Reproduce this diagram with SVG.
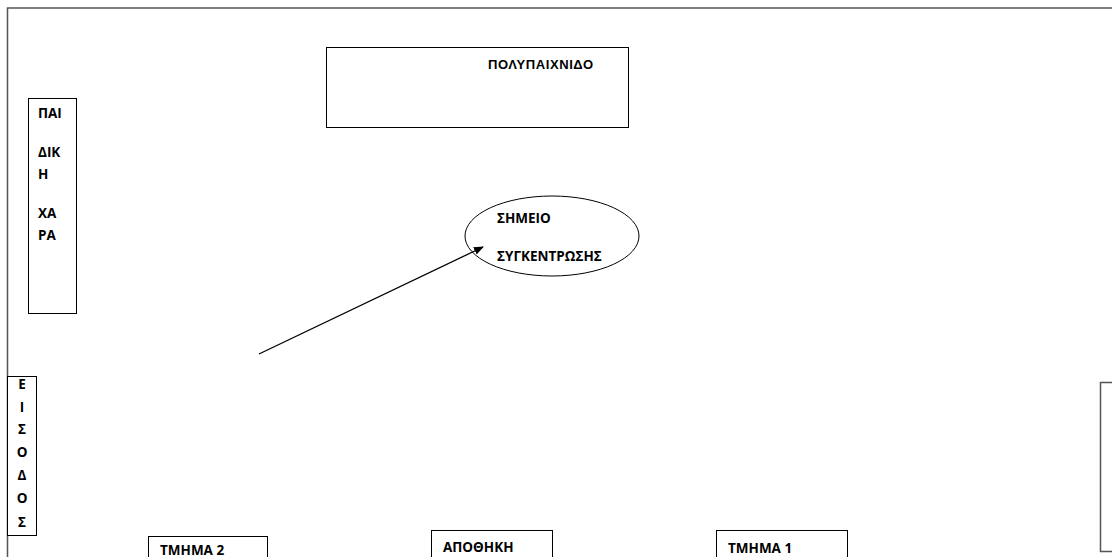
<svg xmlns="http://www.w3.org/2000/svg" width="1112" height="557" viewBox="0 0 1112 557">
<defs>
<style>
.box{fill:#fff;stroke:#000;stroke-width:1}
.frame{fill:none;stroke:#555;stroke-width:1.5}
.t{font-family:"Open Sans","Liberation Sans",sans-serif;font-weight:bold;font-size:13.5px;fill:#000}
.a{font-family:"Liberation Sans",Arial,sans-serif;font-weight:bold;font-size:13px;letter-spacing:0.6px;fill:#000}
</style>
<marker id="arr" markerWidth="10" markerHeight="8" refX="9" refY="4" orient="auto" markerUnits="userSpaceOnUse">
<path d="M0,0 L10,4 L0,8 z" fill="#000"/>
</marker>
</defs>
<rect width="1112" height="557" fill="#fff"/>
<g id="frame">
<path class="frame" d="M1112,8 H7.5 V557"/>
</g>
<g id="polypaixnido">
<rect class="box" x="326.5" y="47.5" width="302" height="80"/>
<text class="a" x="488" y="69">ΠΟΛΥΠΑΙΧΝΙΔΟ</text>
</g>
<g id="paidiki-xara">
<rect class="box" x="28.5" y="98.5" width="48" height="215"/>
<text class="t" x="38" y="118">ΠΑΙ</text>
<text class="t" x="38" y="157">ΔΙΚ</text>
<text class="t" x="38" y="179">Η</text>
<text class="t" x="38" y="218">ΧΑ</text>
<text class="t" x="38" y="240">ΡΑ</text>
</g>
<g id="simeio">
<ellipse class="box" cx="552" cy="236" rx="87" ry="40"/>
<text class="t" x="497" y="223">ΣΗΜΕΙΟ</text>
<text class="t" x="497" y="261">ΣΥΓΚΕΝΤΡΩΣΗΣ</text>
</g>
<g id="eisodos">
<rect class="box" x="7.5" y="376.5" width="29" height="159"/>
<g class="t" text-anchor="middle">
<text x="22" y="389">Ε</text>
<text x="22" y="412">Ι</text>
<text x="22" y="434">Σ</text>
<text x="22" y="457">Ο</text>
<text x="22" y="480">Δ</text>
<text x="22" y="503">Ο</text>
<text x="22" y="527">Σ</text>
</g>
</g>
<g id="tmima2">
<rect class="box" x="148.5" y="536.5" width="119" height="30"/>
<text class="t" x="160" y="555">ΤΜΗΜΑ 2</text>
</g>
<g id="apothiki">
<rect class="box" x="431.5" y="530.5" width="121" height="36"/>
<text class="t" x="443" y="552">ΑΠΟΘΗΚΗ</text>
</g>
<g id="tmima1">
<rect class="box" x="716.5" y="530.5" width="131" height="36"/>
<text class="t" x="728" y="553">ΤΜΗΜΑ 1</text>
</g>
<g id="right-box">
<path class="frame" d="M1112,382.5 H1100.5 V551.5 H1112"/>
</g>
<g id="connectors">
<line x1="259" y1="354" x2="483" y2="247" stroke="#000" stroke-width="1.3" marker-end="url(#arr)"/>
</g>
</svg>
